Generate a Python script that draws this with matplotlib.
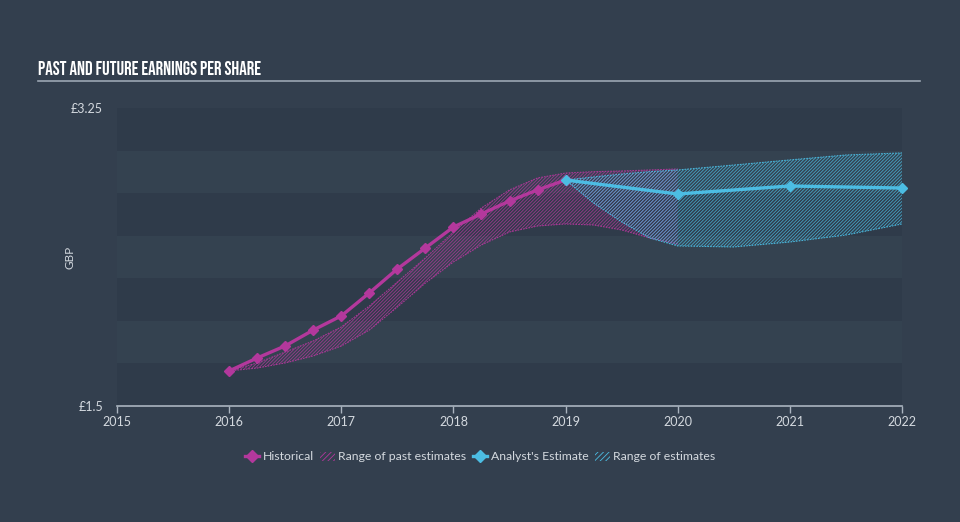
#!/usr/bin/env python3

import numpy
from matplotlib import pyplot
from matplotlib.lines import Line2D
from matplotlib.patches import Patch


# historical EPS, quarterly
HIST_X = [2016.0, 2016.25, 2016.5, 2016.75, 2017.0, 2017.25, 2017.5, 2017.75,
	2018.0, 2018.25, 2018.5, 2018.75, 2019.0]
HIST_Y = [1.706, 1.782, 1.853, 1.946, 2.029, 2.164, 2.305, 2.428,
	2.551, 2.628, 2.704, 2.769, 2.827]

# range of past estimates
PAST_X = [2016.0, 2016.25, 2016.5, 2016.75, 2017.0, 2017.25, 2017.5, 2017.75,
	2018.0, 2018.25, 2018.5, 2018.75, 2019.0, 2019.25, 2019.5, 2019.75, 2020.0]
PAST_HI = [1.706, 1.753, 1.817, 1.882, 1.964, 2.087, 2.228, 2.369,
	2.522, 2.663, 2.769, 2.839, 2.868, 2.876, 2.880, 2.886, 2.892]
PAST_LO = [1.706, 1.723, 1.753, 1.794, 1.852, 1.946, 2.081, 2.222,
	2.346, 2.446, 2.522, 2.557, 2.569, 2.563, 2.534, 2.487, 2.451]

# analyst estimate
EST_X = [2019.0, 2020.0, 2021.0, 2022.0]
EST_Y = [2.827, 2.745, 2.792, 2.780]

# range of estimates
RANGE_X = [2019.0, 2019.25, 2019.5, 2019.75, 2020.0, 2020.5, 2021.0, 2021.5, 2022.0]
RANGE_HI = [2.827, 2.845, 2.862, 2.876, 2.886, 2.915, 2.945, 2.974, 2.986]
RANGE_LO = [2.827, 2.692, 2.581, 2.487, 2.440, 2.434, 2.463, 2.504, 2.569]

X_TICKS = [2015, 2016, 2017, 2018, 2019, 2020, 2021, 2022]
Y_TICKS = [1.5, 3.25]
Y_TICK_LABELS = ["£1.5", "£3.25"]

BG = "#333f4e"
BAND_DARK = "#2f3b4a"
BAND_LIGHT = "#344250"
PINK = "#b3389c"
CYAN = "#4cbde3"
TEXT = "#d4d9df"


def draw_bands(ax):
	edges = numpy.arange(1.5, 3.25 + 0.001, 0.25)
	for i in range(len(edges) - 1):
		color = BAND_DARK if i % 2 == 0 else BAND_LIGHT
		ax.axhspan(edges[i], edges[i + 1], color = color, zorder = 0, lw = 0)


def draw_range(ax, x, lo, hi, color, z):
	ax.fill_between(x, lo, hi, facecolor = "none", edgecolor = color,
		hatch = "//////////", linewidth = 0, alpha = 0.8, zorder = z)
	for y in (lo, hi):
		ax.plot(x, y, linestyle = (0, (1.5, 1.0)), linewidth = 0.8, color = color,
			alpha = 0.9, zorder = z)


def hdl_plot():
	pyplot.rcParams["font.family"] = ["Lato", "DejaVu Sans"]
	pyplot.rcParams["hatch.linewidth"] = 0.6
	fig = pyplot.figure(figsize = (9.6, 5.22), dpi = 100, facecolor = BG)
	ax = fig.add_axes([117 / 960, 1 - 406 / 522, 785 / 960, 298 / 522])
	ax.set_facecolor(BG)
	draw_bands(ax)

	draw_range(ax, PAST_X, PAST_LO, PAST_HI, PINK, 2)
	draw_range(ax, RANGE_X, RANGE_LO, RANGE_HI, CYAN, 3)

	ax.plot(HIST_X, HIST_Y, color = PINK, linewidth = 2.4, marker = "D",
		markersize = 5.5, zorder = 5, clip_on = False)
	ax.plot(EST_X, EST_Y, color = CYAN, linewidth = 2.4, marker = "D",
		markersize = 5.5, zorder = 6, clip_on = False)

	ax.set_xlim(2015, 2022)
	ax.set_ylim(1.5, 3.25)
	for side in ("top", "right", "left"):
		ax.spines[side].set_visible(False)
	ax.spines["bottom"].set_color("#aab4bf")
	ax.spines["bottom"].set_linewidth(1.2)
	ax.set_xticks(X_TICKS)
	ax.set_xticklabels([str(t) for t in X_TICKS])
	ax.set_yticks(Y_TICKS)
	ax.set_yticklabels(Y_TICK_LABELS)
	ax.tick_params(axis = "x", colors = "#aab4bf", labelcolor = TEXT, length = 5,
		width = 1.0, labelsize = 9, pad = 2)
	ax.tick_params(axis = "y", length = 0, labelcolor = TEXT, labelsize = 9, pad = 10)
	ax.set_ylabel("GBP", color = TEXT, fontsize = 8.5)
	ax.yaxis.set_label_coords(-0.053, 0.5)

	# title and rule
	fig.text(38 / 960, 1 - 68 / 522, "PAST AND FUTURE EARNINGS PER SHARE",
		fontfamily = ["Bebas Neue", "Staatliches", "Oswald", "DejaVu Sans"],
		fontsize = 13.5, color = "#ffffff", va = "center", ha = "left")
	fig.add_artist(Line2D([38 / 960, 920 / 960], [1 - 81 / 522, 1 - 81 / 522],
		color = "#9ba6b2", linewidth = 1.2))

	handles = [
		Line2D([], [], color = PINK, linewidth = 2.4, marker = "D", markersize = 6),
		Patch(facecolor = "none", edgecolor = PINK, hatch = "//////", linewidth = 0),
		Line2D([], [], color = CYAN, linewidth = 2.4, marker = "D", markersize = 6),
		Patch(facecolor = "none", edgecolor = CYAN, hatch = "//////", linewidth = 0),
	]
	labels = ["Historical", "Range of past estimates", "Analyst's Estimate",
		"Range of estimates"]
	leg = fig.legend(handles, labels, loc = "center", ncol = 4,
		bbox_to_anchor = (0.5, 1 - 457 / 522), frameon = False, fontsize = 8.8,
		handlelength = 1.2, handletextpad = 0.3, columnspacing = 0.5)
	for t in leg.get_texts():
		t.set_color(TEXT)
	return fig


if __name__ == "__main__":
	fig = hdl_plot()
	pyplot.savefig("out.png", dpi = 100, facecolor = BG)
	pyplot.close()
